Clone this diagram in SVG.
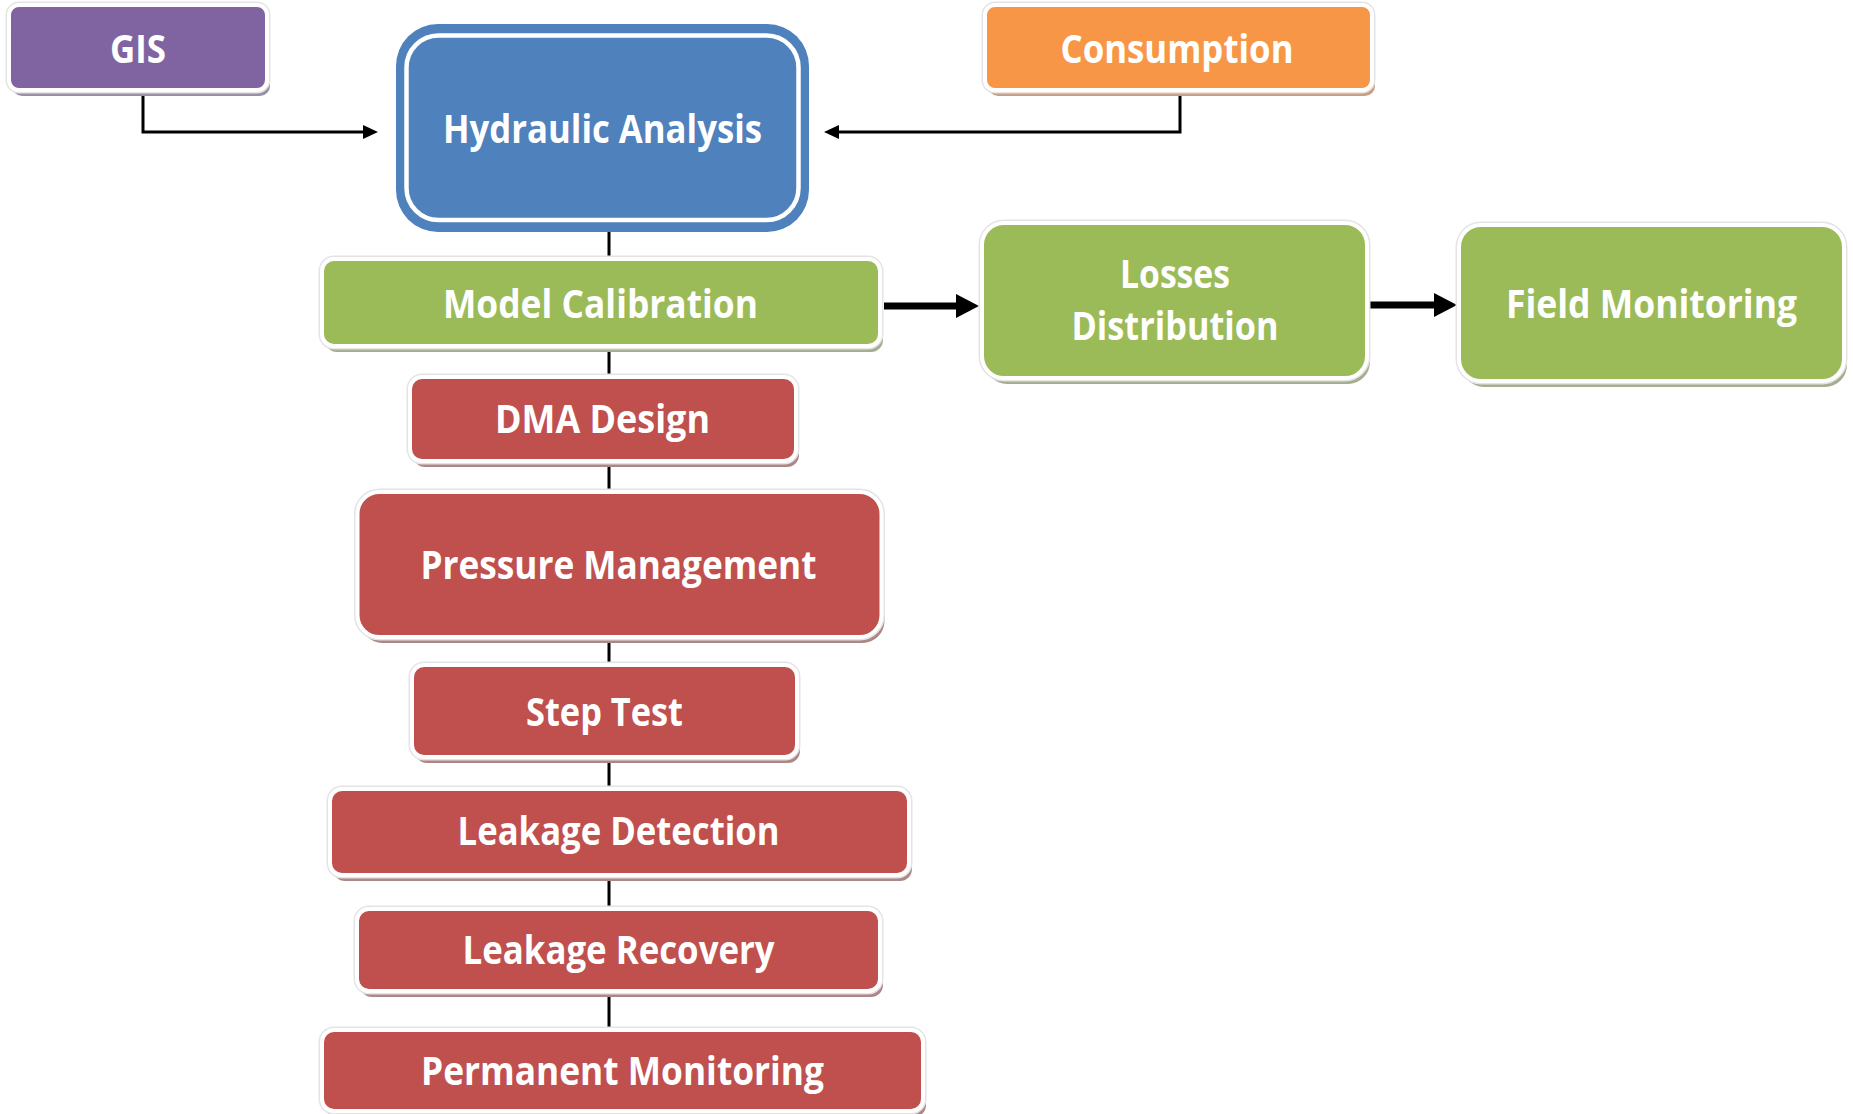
<svg xmlns="http://www.w3.org/2000/svg" width="1853" height="1114" viewBox="0 0 1853 1114">
<style>
.halo{fill:none;stroke:#e4e4e4;stroke-width:7}
.box{stroke:#fff;stroke-width:4}
.lbl{font-family:'Open Sans','Liberation Sans',sans-serif;font-weight:700;font-size:38.5px;fill:#fff;text-anchor:middle}
.spine{stroke:#000;stroke-width:3;fill:none}
.thin{stroke:#000;stroke-width:3;fill:none}
.thick{stroke:#000;stroke-width:7;fill:none}
.red{fill:#C0504D}.redS{fill:#ad8785}
.grn{fill:#9BBB59}.grnS{fill:#a4ae8f}
.pur{fill:#8064A2}.purS{fill:#9a90a6}
.org{fill:#F79646}.orgS{fill:#c99e80}
</style>
<defs>
<marker id="ah" markerUnits="userSpaceOnUse" markerWidth="16" markerHeight="14" refX="5" refY="7" orient="auto">
<path d="M0,0 L15,7 L0,14 z" fill="#000"/>
</marker>
<marker id="ahB" markerUnits="userSpaceOnUse" markerWidth="24" markerHeight="24" refX="8" refY="12" orient="auto">
<path d="M0,0 L23,12 L0,24 z" fill="#000"/>
</marker>
</defs>
<rect width="1853" height="1114" fill="#fff"/>

<g id="connectors">
<path class="thin" d="M143,92 V132 H368" marker-end="url(#ah)"/>
<path class="thin" d="M1180,92 V132 H834" marker-end="url(#ah)"/>
<line class="spine" x1="609" y1="232" x2="609" y2="258"/>
<line class="spine" x1="609" y1="348" x2="609" y2="376"/>
<line class="spine" x1="609" y1="463" x2="609" y2="491"/>
<line class="spine" x1="609" y1="639" x2="609" y2="664"/>
<line class="spine" x1="609" y1="759" x2="609" y2="788"/>
<line class="spine" x1="609" y1="877" x2="609" y2="908"/>
<line class="spine" x1="609" y1="993" x2="609" y2="1029"/>
<path class="thick" d="M884,306 H964" marker-end="url(#ahB)"/>
<path class="thick" d="M1369,305 H1442" marker-end="url(#ahB)"/>
</g>

<g id="gis">
<rect class="purS" x="12" y="11" width="258" height="85" rx="10"/>
<rect class="halo" x="9" y="5" width="258" height="85" rx="10"/>
<rect class="box pur" x="9" y="5" width="258" height="85" rx="10"/>
<text class="lbl" x="138" y="63" textLength="56" lengthAdjust="spacingAndGlyphs">GIS</text>
</g>

<g id="hydraulic">
<rect x="396" y="24" width="413" height="208" rx="42" fill="#4F81BD"/>
<rect x="406.5" y="35.5" width="392" height="184.5" rx="32" fill="none" stroke="#fff" stroke-width="4.5"/>
<text class="lbl" x="602.5" y="143" textLength="319" lengthAdjust="spacingAndGlyphs">Hydraulic Analysis</text>
</g>

<g id="consumption">
<rect class="orgS" x="988" y="11" width="387" height="85" rx="10"/>
<rect class="halo" x="985" y="5" width="387" height="85" rx="10"/>
<rect class="box org" x="985" y="5" width="387" height="85" rx="10"/>
<text class="lbl" x="1177" y="63" textLength="233" lengthAdjust="spacingAndGlyphs">Consumption</text>
</g>

<g id="model-calibration">
<rect class="grnS" x="325" y="265" width="558" height="87" rx="12"/>
<rect class="halo" x="322" y="259" width="558" height="87" rx="12"/>
<rect class="box grn" x="322" y="259" width="558" height="87" rx="12"/>
<text class="lbl" x="600.5" y="318" textLength="315" lengthAdjust="spacingAndGlyphs">Model Calibration</text>
</g>

<g id="losses-distribution">
<rect class="grnS" x="985" y="229" width="385" height="155" rx="22"/>
<rect class="halo" x="982" y="223" width="385" height="155" rx="22"/>
<rect class="box grn" x="982" y="223" width="385" height="155" rx="22"/>
<text class="lbl" x="1175" y="288" textLength="110" lengthAdjust="spacingAndGlyphs">Losses</text>
<text class="lbl" x="1175" y="340" textLength="207" lengthAdjust="spacingAndGlyphs">Distribution</text>
</g>

<g id="field-monitoring">
<rect class="grnS" x="1462" y="231" width="385" height="156" rx="22"/>
<rect class="halo" x="1459" y="225" width="385" height="156" rx="22"/>
<rect class="box grn" x="1459" y="225" width="385" height="156" rx="22"/>
<text class="lbl" x="1651.5" y="318" textLength="291" lengthAdjust="spacingAndGlyphs">Field Monitoring</text>
</g>

<g id="dma-design">
<rect class="redS" x="413" y="383" width="386" height="84" rx="12"/>
<rect class="halo" x="410" y="377" width="386" height="84" rx="12"/>
<rect class="box red" x="410" y="377" width="386" height="84" rx="12"/>
<text class="lbl" x="602.5" y="433" textLength="215" lengthAdjust="spacingAndGlyphs">DMA Design</text>
</g>

<g id="pressure-management">
<rect class="redS" x="360.5" y="498" width="524" height="145" rx="22"/>
<rect class="halo" x="357.5" y="492" width="524" height="145" rx="22"/>
<rect class="box red" x="357.5" y="492" width="524" height="145" rx="22"/>
<text class="lbl" x="618.5" y="579" textLength="396" lengthAdjust="spacingAndGlyphs">Pressure Management</text>
</g>

<g id="step-test">
<rect class="redS" x="415" y="671" width="385" height="92" rx="12"/>
<rect class="halo" x="412" y="665" width="385" height="92" rx="12"/>
<rect class="box red" x="412" y="665" width="385" height="92" rx="12"/>
<text class="lbl" x="604.5" y="726" textLength="157" lengthAdjust="spacingAndGlyphs">Step Test</text>
</g>

<g id="leakage-detection">
<rect class="redS" x="333" y="795" width="579" height="86" rx="12"/>
<rect class="halo" x="330" y="789" width="579" height="86" rx="12"/>
<rect class="box red" x="330" y="789" width="579" height="86" rx="12"/>
<text class="lbl" x="618.6" y="845" textLength="322" lengthAdjust="spacingAndGlyphs">Leakage Detection</text>
</g>

<g id="leakage-recovery">
<rect class="redS" x="360" y="915" width="523" height="82" rx="12"/>
<rect class="halo" x="357" y="909" width="523" height="82" rx="12"/>
<rect class="box red" x="357" y="909" width="523" height="82" rx="12"/>
<text class="lbl" x="618.6" y="964" textLength="312" lengthAdjust="spacingAndGlyphs">Leakage Recovery</text>
</g>

<g id="permanent-monitoring">
<rect class="redS" x="325" y="1036" width="601" height="81" rx="12"/>
<rect class="halo" x="322" y="1030" width="601" height="81" rx="12"/>
<rect class="box red" x="322" y="1030" width="601" height="81" rx="12"/>
<text class="lbl" x="622.5" y="1085" textLength="403" lengthAdjust="spacingAndGlyphs">Permanent Monitoring</text>
</g>
</svg>
